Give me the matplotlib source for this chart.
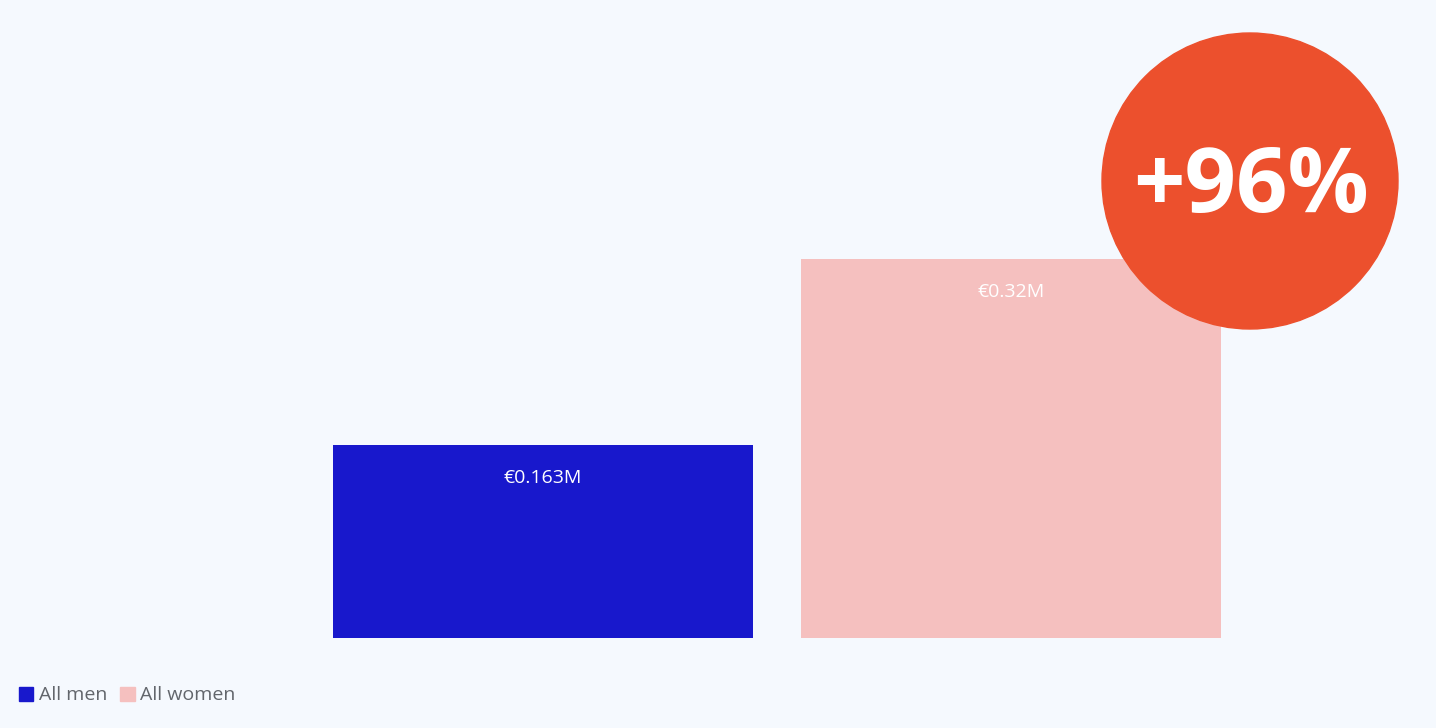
import matplotlib.pyplot as plt
from matplotlib.patches import Circle, Patch

# data
categories = ['All men', 'All women']
values = [0.163, 0.32]
value_labels = ['€0.163M', '€0.32M']
colors = ['#1818CC', '#F5C0BF']
badge_text = '+96%'

bg = '#F5F9FE'
W, H = 1436, 728

fig = plt.figure(figsize=(W / 100, H / 100), dpi=100, facecolor=bg)

# bar axes: baseline at y=638px, 1184 px per million
ax = fig.add_axes([0, 90 / H, 1, 1 - 90 / H])
ax.set_facecolor(bg)
ax.set_xlim(-543 / 468, (W - 543) / 468)
ax.set_ylim(0, 638 / 1184)
x = range(len(categories))
bars = ax.bar(x, values, width=420 / 468, color=colors, label=categories)
for b, lab in zip(bars, value_labels):
    ax.text(b.get_x() + b.get_width() / 2, b.get_height() - 33 / 1184, lab,
            ha='center', va='center', color='white', fontsize=14,
            family='Open Sans')
ax.axis('off')

# legend
handles = [Patch(color=c, label=l) for c, l in zip(colors, categories)]
fig.legend(handles=handles, loc='lower left', bbox_to_anchor=(1 / W, 6 / H),
           ncol=2, frameon=False, handlelength=0.75, handleheight=0.75,
           handletextpad=0.3, columnspacing=0.65,
           prop={'family': 'Open Sans', 'size': 14}, labelcolor='#62666C')

# badge overlay in pixel coords
ov = fig.add_axes([0, 0, 1, 1])
ov.set_xlim(0, W)
ov.set_ylim(H, 0)
ov.axis('off')
ov.patch.set_alpha(0)
ov.add_patch(Circle((1250, 181), 148, color='#EC502D'))
ov.text(1251, 212, badge_text, ha='center', va='baseline', color='white',
        fontsize=65, fontweight='bold', family='Open Sans')

fig.savefig('out.png', dpi=100, facecolor=bg)
